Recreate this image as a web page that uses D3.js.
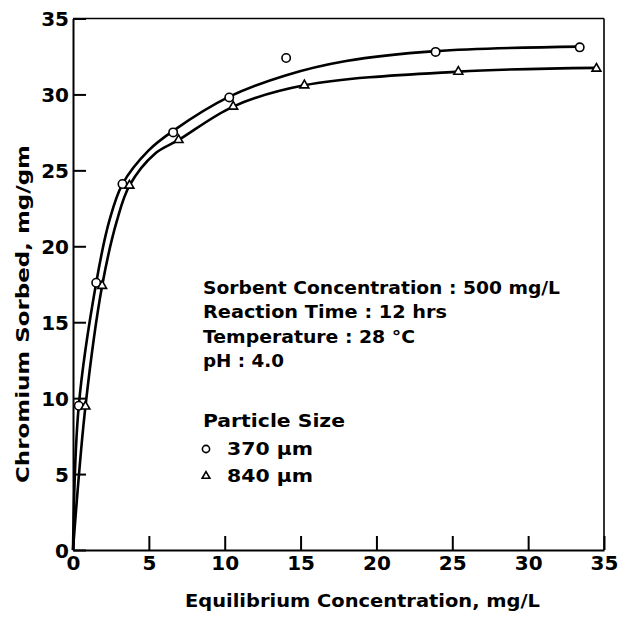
<!DOCTYPE html>
<html>
<head>
<meta charset="utf-8">
<script src="https://cdn.jsdelivr.net/npm/d3@7"></script>
<style>
  html, body { margin: 0; padding: 0; background: #fff; }
  svg text { font-family: "DejaVu Sans", "Liberation Sans", sans-serif; font-weight: bold; fill: #000; }
</style>
</head>
<body>
<svg id="chart" width="619" height="618"></svg>
<script>
// ---- data ----
const xTicks = [0, 5, 10, 15, 20, 25, 30, 35];
const yTicks = [0, 5, 10, 15, 20, 25, 30, 35];

// 370 µm (circles) observed points
const s370x = [0.38, 1.53, 3.26, 6.6, 10.3, 14.05, 23.9, 33.4];
const s370y = [9.5, 17.6, 24.1, 27.5, 29.8, 32.4, 32.8, 33.1];
// 840 µm (triangles) observed points
const s840x = [0.82, 1.92, 3.72, 6.96, 10.56, 15.25, 25.4, 34.5];
const s840y = [9.45, 17.4, 24.0, 27.0, 29.2, 30.6, 31.5, 31.7];

// fitted curves
const c370x = [0, 0.38, 1.53, 2.4, 3.26, 4.97, 6.6, 10.3, 14.0, 18.0, 23.9, 33.4];
const c370y = [0, 9.5, 17.6, 21.7, 24.1, 26.3, 27.6, 29.85, 31.25, 32.2, 32.85, 33.15];
const c840x = [0, 0.82, 1.92, 2.9, 3.72, 5.4, 6.96, 10.56, 15.25, 25.4, 34.5];
const c840y = [0, 9.45, 17.4, 21.7, 24.0, 26.1, 27.0, 29.2, 30.6, 31.5, 31.75];

const notes = ["Sorbent Concentration : 500 mg/L", "Reaction Time : 12 hrs", "Temperature : 28 °C", "pH : 4.0"];
const noteWidths = [357, 244, 212, 81];
const legendTitle = "Particle Size";
const legendLabels = ["370 µm", "840 µm"];
const xLabel = "Equilibrium Concentration, mg/L";
const yLabel = "Chromium Sorbed, mg/gm";

// ---- chart ----
const svg = d3.select("#chart");
const x = d3.scaleLinear().domain([0, 35]).range([73, 604]);
const y = d3.scaleLinear().domain([0, 35]).range([550, 18.5]);

const axisFont = 20;

const gx = svg.append("g").attr("transform", `translate(0,${y(0)})`)
  .call(d3.axisBottom(x).tickValues(xTicks).tickSizeInner(-14).tickSizeOuter(0).tickPadding(6).tickFormat(d3.format("d")));
const gy = svg.append("g").attr("transform", `translate(${x(0)},0)`)
  .call(d3.axisLeft(y).tickValues(yTicks).tickSizeInner(-13).tickSizeOuter(0).tickPadding(4).tickFormat(d3.format("d")));
[gx, gy].forEach(g => {
  g.select(".domain").attr("stroke", "#000").attr("stroke-width", 2);
  g.selectAll(".tick line").attr("stroke", "#000").attr("stroke-width", 2);
  g.selectAll(".tick text").style("font-size", axisFont + "px").attr("fill", "#000")
    .attr("font-family", "'DejaVu Sans Condensed', 'DejaVu Sans', sans-serif");
});
gx.selectAll(".tick text").attr("dy", "0.71em");
gy.selectAll(".tick text").attr("dy", "0.36em");

// top and right frame
svg.append("line").attr("x1", x(0)).attr("x2", x(35)).attr("y1", y(35)).attr("y2", y(35))
  .attr("stroke", "#000").attr("stroke-width", 1.6);
svg.append("line").attr("x1", x(35)).attr("x2", x(35)).attr("y1", y(35)).attr("y2", y(0))
  .attr("stroke", "#000").attr("stroke-width", 1.6);

// curves
const line = d3.line().x(d => x(d[0])).y(d => y(d[1])).curve(d3.curveCatmullRom.alpha(0.5));
const c370 = c370x.map((v, i) => [v, c370y[i]]);
const c840 = c840x.map((v, i) => [v, c840y[i]]);
[c370, c840].forEach(c => {
  svg.append("path").attr("d", line(c)).attr("fill", "none").attr("stroke", "#000").attr("stroke-width", 2.6);
});

// markers
const p370 = s370x.map((v, i) => [v, s370y[i]]);
const p840 = s840x.map((v, i) => [v, s840y[i]]);
svg.append("g").selectAll("circle").data(p370).join("circle")
  .attr("cx", d => x(d[0])).attr("cy", d => y(d[1])).attr("r", 4.2)
  .attr("fill", "#fff").attr("stroke", "#000").attr("stroke-width", 1.6);
const tri = d3.symbol().type(d3.symbolTriangle).size(34);
svg.append("g").selectAll("path").data(p840).join("path")
  .attr("d", tri).attr("transform", d => `translate(${x(d[0])},${y(d[1])})`)
  .attr("fill", "#fff").attr("stroke", "#000").attr("stroke-width", 1.6);

// annotations
const noteFont = 18;
const noteX = 203;
const noteY0 = 294;
const noteDy = 24.3;
notes.forEach((t, i) => {
  svg.append("text").attr("x", noteX).attr("y", noteY0 + i * noteDy)
    .attr("textLength", noteWidths[i]).attr("lengthAdjust", "spacingAndGlyphs")
    .style("font-size", noteFont + "px").text(t);
});
svg.append("text").attr("x", noteX).attr("y", 427).style("font-size", noteFont + "px")
  .attr("textLength", 142).attr("lengthAdjust", "spacingAndGlyphs").text(legendTitle);
legendLabels.forEach((t, i) => {
  svg.append("text").attr("x", 227).attr("y", 455 + i * 27).style("font-size", noteFont + "px")
    .attr("textLength", 86).attr("lengthAdjust", "spacingAndGlyphs").text(t);
});
svg.append("circle").attr("cx", 206).attr("cy", 449).attr("r", 3.6)
  .attr("fill", "#fff").attr("stroke", "#000").attr("stroke-width", 1.6);
svg.append("path").attr("d", d3.symbol().type(d3.symbolTriangle).size(26))
  .attr("transform", "translate(206,476)")
  .attr("fill", "#fff").attr("stroke", "#000").attr("stroke-width", 1.6);

// axis titles
svg.append("text").attr("x", 185).attr("y", 607).style("font-size", noteFont + "px")
  .attr("textLength", 355).attr("lengthAdjust", "spacingAndGlyphs").text(xLabel);
svg.append("text").attr("transform", "translate(29,314) rotate(-90)")
  .attr("text-anchor", "middle").style("font-size", noteFont + "px")
  .attr("textLength", 338).attr("lengthAdjust", "spacingAndGlyphs").text(yLabel);
</script>
</body>
</html>
